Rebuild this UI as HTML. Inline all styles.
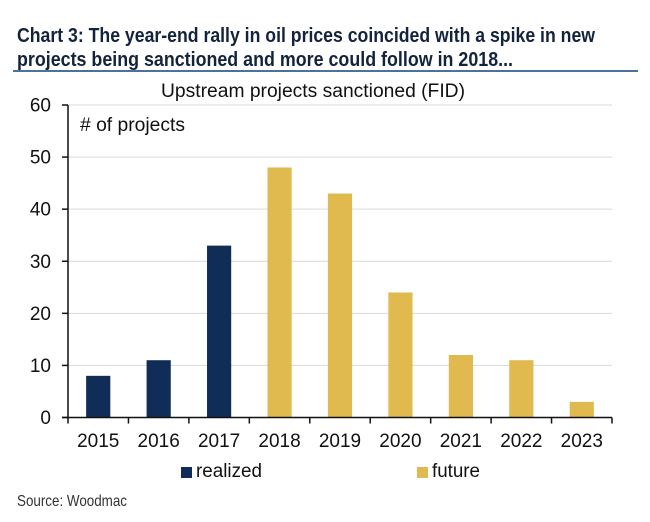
<!DOCTYPE html>
<html lang="en">
<head>
<meta charset="utf-8">
<title>Chart 3</title>
<style>
html,body{margin:0;padding:0;background:#fff;width:650px;height:522px;overflow:hidden}
svg{display:block}
text{font-family:"Liberation Sans",sans-serif;fill:#111}
</style>
</head>
<body>
<svg id="chart" width="650" height="522" viewBox="0 0 650 522">
  <text x="17" y="42" font-size="20" font-weight="700" style="fill:#14233c" textLength="578" lengthAdjust="spacingAndGlyphs">Chart 3: The year-end rally in oil prices coincided with a spike in new</text>
  <text x="17" y="66" font-size="20" font-weight="700" style="fill:#14233c" textLength="496" lengthAdjust="spacingAndGlyphs">projects being sanctioned and more could follow in 2018...</text>
  <rect x="13" y="70" width="625" height="2" fill="#4f7197"/>
  <text x="161" y="97" font-size="19" textLength="304" lengthAdjust="spacingAndGlyphs">Upstream projects sanctioned (FID)</text>
  <text x="80" y="131" font-size="19" textLength="105" lengthAdjust="spacingAndGlyphs"># of projects</text>
  <g id="grid"></g>
  <g id="bars"></g>
  <g id="axes"></g>
  <g>
    <rect x="181" y="467" width="11" height="11" fill="#0f2d56"/>
    <text x="196" y="477" font-size="19" textLength="66" lengthAdjust="spacingAndGlyphs">realized</text>
    <rect x="417" y="467" width="11" height="11" fill="#e0b94f"/>
    <text x="432" y="477" font-size="19" textLength="48" lengthAdjust="spacingAndGlyphs">future</text>
  </g>
  <text x="17" y="506" font-size="16" style="fill:#333" textLength="110" lengthAdjust="spacingAndGlyphs">Source: Woodmac</text>
</svg>
<script>
const categories = ['2015','2016','2017','2018','2019','2020','2021','2022','2023'];
const seriesNames = ['realized','realized','realized','future','future','future','future','future','future'];
const projectCounts = [8,11,33,48,43,24,12,11,3];
const yTicks = [0,10,20,30,40,50,60];

const NS = 'http://www.w3.org/2000/svg';
const plotLeft = 68, plotRight = 612, plotTop = 105, plotBottom = 417.5, yMax = 60;
const seriesColors = {realized:'#0f2d56', future:'#e0b94f'};
function yScale(v){ return plotBottom - (v / yMax) * (plotBottom - plotTop); }
function bandWidth(){ return (plotRight - plotLeft) / categories.length; }
function xScale(i){ return plotLeft + (i + 0.5) * bandWidth(); }
function make(tag, attrs, parent){
  const el = document.createElementNS(NS, tag);
  for (const k in attrs) el.setAttribute(k, attrs[k]);
  parent.appendChild(el);
  return el;
}
const grid = document.getElementById('grid');
const bars = document.getElementById('bars');
const axes = document.getElementById('axes');

yTicks.forEach(function(t){
  const y = yScale(t);
  if (t > 0) {
    const g = make('line', {x1:plotLeft, x2:plotRight, y1:y, y2:y, stroke:'#d9d9d9', 'stroke-width':1}, grid);
    
    
  }
  const tick = make('line', {x1:plotLeft-6, x2:plotLeft, y1:y, y2:y, stroke:'#111', 'stroke-width':1.5}, axes);
  
  
  const lab = make('text', {x:plotLeft-17, y:y+6.5, 'font-size':19, 'text-anchor':'end'}, axes);
  lab.textContent = t;
  
  
});

categories.forEach(function(c, i){
  const w = bandWidth() * 0.4;
  const y = yScale(projectCounts[i]);
  const bar = make('rect', {x:xScale(i)-w/2, y:y, width:w, height:plotBottom-y, fill:seriesColors[seriesNames[i]]}, bars);
  
  
  const lab = make('text', {x:xScale(i), y:plotBottom+29.5, 'font-size':19, 'text-anchor':'middle'}, axes);
  lab.textContent = c;
  
  
});

for (let i = 0; i <= categories.length; i++) {
  const x = plotLeft + i * bandWidth();
  const tick = make('line', {x1:x, x2:x, y1:plotBottom, y2:plotBottom+6, stroke:'#111', 'stroke-width':1.5}, axes);
  
  
}
const yAxis = make('line', {x1:plotLeft, x2:plotLeft, y1:plotTop, y2:plotBottom, stroke:'#111', 'stroke-width':1.5}, axes);


const xAxis = make('line', {x1:plotLeft-6, x2:plotRight, y1:plotBottom, y2:plotBottom, stroke:'#111', 'stroke-width':1.5}, axes);


</script>
</body>
</html>
